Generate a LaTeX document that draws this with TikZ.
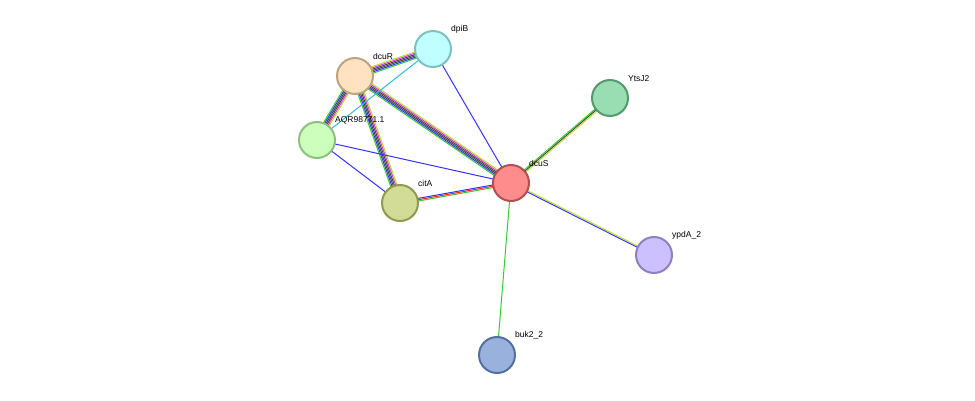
\documentclass[tikz,border=0pt]{standalone}
\usepackage{fontspec}
\setmainfont{Liberation Sans}
\usetikzlibrary{calc}
\pgfdeclarelayer{bg}
\pgfsetlayers{bg,main}
\definecolor{sgreen}{HTML}{33CC33}
\definecolor{sblue}{HTML}{3333FF}
\definecolor{sdark}{HTML}{444444}
\definecolor{smag}{HTML}{DD33DD}
\definecolor{syel}{HTML}{BBDD33}
\definecolor{scyan}{HTML}{33BBDD}
\definecolor{sred}{HTML}{FF2222}
\tikzstyle{Protein} = [draw, circle, line width=2pt, minimum size=36pt, inner sep=0pt]
\tikzstyle{Name} = [font=\fontsize{8.5pt}{10pt}\selectfont, anchor=south west, inner sep=0pt]
\newcommand\multilink[3]{%
  \begin{pgfonlayer}{bg}
  \foreach \c/\o in {#3}
    \draw[\c, line width=1pt] ($(#1.center)!\o*1.3pt!90:(#2.center)$) -- ($(#2.center)!\o*1.3pt!-90:(#1.center)$);
  \end{pgfonlayer}}
\begin{document}
\begin{tikzpicture}[x=1pt, y=-1pt]
  \useasboundingbox (0,0) rectangle (975,401);

  \node[Protein, fill={rgb,255:red,255;green,140;blue,140}, draw={rgb,255:red,176;green,80;blue,80}] (dcuS) at (511,183) {};
  \node[Protein, fill={rgb,255:red,192;green,255;blue,255}, draw={rgb,255:red,128;green,192;blue,192}] (dpiB) at (433,49) {};
  \node[Protein, fill={rgb,255:red,255;green,226;blue,194}, draw={rgb,255:red,192;green,162;blue,128}] (dcuR) at (355,76) {};
  \node[Protein, fill={rgb,255:red,204;green,255;blue,187}, draw={rgb,255:red,144;green,192;blue,128}] (AQR) at (317,140) {};
  \node[Protein, fill={rgb,255:red,211;green,220;blue,150}, draw={rgb,255:red,144;green,154;blue,80}] (citA) at (400,203) {};
  \node[Protein, fill={rgb,255:red,153;green,221;blue,179}, draw={rgb,255:red,85;green,153;blue,112}] (YtsJ2) at (610,98) {};
  \node[Protein, fill={rgb,255:red,204;green,192;blue,255}, draw={rgb,255:red,144;green,128;blue,192}] (ypdA) at (654,255) {};
  \node[Protein, fill={rgb,255:red,153;green,178;blue,221}, draw={rgb,255:red,85;green,112;blue,160}] (buk) at (497,355) {};

  \node[Name] (dcuS-lab) at (529,167) {dcuS};
  \node[Name] (dpiB-lab) at (451,33) {dpiB};
  \node[Name] (dcuR-lab) at (373,60) {dcuR};
  \node[Name] (AQR-lab) at (335,124) {AQR98771.1};
  \node[Name] (citA-lab) at (418,187) {citA};
  \node[Name] (YtsJ2-lab) at (628,82) {YtsJ2};
  \node[Name] (ypdA-lab) at (672,239) {ypdA\_2};
  \node[Name] (buk-lab) at (515,339) {buk2\_2};

  \multilink{dcuR}{dpiB}{sgreen/-2.5,sblue/-1.5,sdark/-0.5,sdark/0.5,smag/1.5,syel/2.5}
  \multilink{dcuR}{dcuS}{sgreen/-2.5,sblue/-1.5,sdark/-0.5,sdark/0.5,smag/1.5,syel/2.5}
  \multilink{dcuR}{AQR}{sgreen/-2.5,sblue/-1.5,sdark/-0.5,sdark/0.5,smag/1.5,syel/2.5}
  \multilink{dcuR}{citA}{sgreen/-2.5,sblue/-1.5,sdark/-0.5,sdark/0.5,smag/1.5,syel/2.5}
  \multilink{citA}{dcuS}{sgreen/-1,sred/0,sblue/1}
  \multilink{YtsJ2}{dcuS}{sgreen/-1,sdark/0,syel/1}
  \multilink{dcuS}{ypdA}{sblue/-0.5,syel/0.5}
  \multilink{AQR}{dpiB}{scyan/0}
  \multilink{dpiB}{dcuS}{sblue/0}
  \multilink{AQR}{dcuS}{sblue/0}
  \multilink{AQR}{citA}{sblue/0}
  \multilink{dcuS}{buk}{sgreen/0}
\end{tikzpicture}
\end{document}
